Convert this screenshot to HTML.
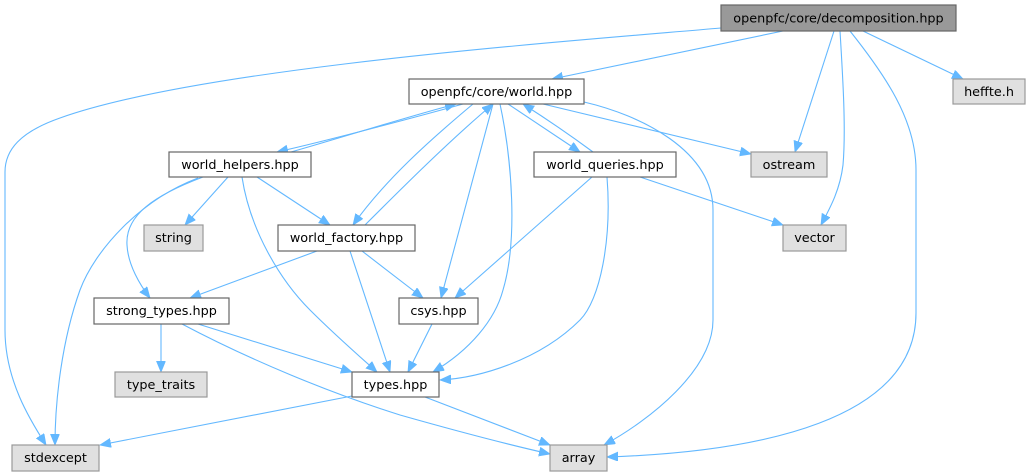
<!DOCTYPE html>
<html>
<head>
<meta charset="utf-8">
<style>
  html,body{margin:0;padding:0;background:#ffffff;}
  svg{display:block;}
  text{font-family:"DejaVu Sans","Liberation Sans",sans-serif;font-size:12.8px;fill:#000;text-anchor:middle;}
  .e{fill:none;stroke:#63b8ff;stroke-width:1.1;}
  .n{fill:#ffffff;stroke:#666666;stroke-width:1.2;}
  .x{fill:#e0e0e0;stroke:#999999;stroke-width:1.2;}
  .r{fill:#999999;stroke:#666666;stroke-width:1.2;}
</style>
</head>
<body>
<svg width="1031" height="476" viewBox="0 0 1031 476" xmlns="http://www.w3.org/2000/svg">
  <defs>
    <marker id="a" markerWidth="13" markerHeight="11" refX="11" refY="4.5" orient="auto" markerUnits="userSpaceOnUse">
      <path d="M0,0 L11,4.5 L0,9 z" fill="#63b8ff" stroke="#63b8ff" stroke-width="0.8"/>
    </marker>
  </defs>

  <!-- edges -->
  <g marker-end="url(#a)">
    <path class="e" d="M721,28 C560,42 200,68 60,118 C20,132 5,150 5,172 L5,330 C5,380 30,420 46,445"/>
    <path class="e" d="M783,31 L552,79"/>
    <path class="e" d="M834,31 L795,152"/>
    <path class="e" d="M840,31 C843,80 846,130 843,165 C840,190 830,208 821,225"/>
    <path class="e" d="M863,31 L963,79"/>
    <path class="e" d="M850,31 C885,75 916,120 916,170 L916,313 C916,420 760,452 607,457"/>

    <path class="e" d="M463,104 C420,116 330,140 277,152"/>
    <path class="e" d="M291,152 C340,138 410,116 456,104"/>
    <path class="e" d="M473,104 C430,140 385,180 353,225"/>
    <path class="e" d="M365,225 C400,190 450,140 493,104"/>
    <path class="e" d="M493,104 L441,298"/>
    <path class="e" d="M500,104 C512,160 518,240 503,290 C495,320 470,350 433,372"/>
    <path class="e" d="M508,104 L580,152"/>
    <path class="e" d="M593,152 C570,135 545,118 523,104"/>
    <path class="e" d="M543,104 L751,154"/>
    <path class="e" d="M584,102 C640,115 713,150 713,210 L713,320 C713,370 650,420 604,445"/>

    <path class="e" d="M228,177 L185,225"/>
    <path class="e" d="M257,177 L330,225"/>
    <path class="e" d="M242,177 C250,230 280,280 310,310 C335,335 358,355 377,372"/>
    <path class="e" d="M203,177 C155,195 125,215 127,245 C128,265 140,285 150,298"/>
    <path class="e" d="M198,178 C140,200 95,250 80,290 C62,340 55,400 55,445"/>

    <path class="e" d="M317,251 L190,298"/>
    <path class="e" d="M362,251 L423,298"/>
    <path class="e" d="M350,251 L390,372"/>

    <path class="e" d="M592,177 L455,298"/>
    <path class="e" d="M640,177 L783,225"/>
    <path class="e" d="M607,177 C612,240 600,300 580,320 C540,360 480,378 440,380"/>

    <path class="e" d="M432,324 L408,372"/>
    <path class="e" d="M161,324 L161,372"/>
    <path class="e" d="M198,324 L352,372"/>
    <path class="e" d="M182,324 C250,360 330,393 400,415 C460,432 510,445 550,454"/>

    <path class="e" d="M352,396 L100,445"/>
    <path class="e" d="M425,397 L550,445"/>
  </g>

  <!-- nodes -->
  <rect class="r" x="721" y="5" width="235" height="26"/>
  <text x="838.5" y="22.5">openpfc/core/decomposition.hpp</text>

  <rect class="n" x="409" y="79" width="175" height="25"/>
  <text x="496.5" y="96">openpfc/core/world.hpp</text>

  <rect class="x" x="953" y="79" width="72" height="25"/>
  <text x="989" y="96">heffte.h</text>

  <rect class="n" x="169" y="152" width="142" height="25"/>
  <text x="240" y="169">world_helpers.hpp</text>

  <rect class="n" x="534" y="152" width="142" height="25"/>
  <text x="605" y="169">world_queries.hpp</text>

  <rect class="x" x="751" y="152" width="76" height="25"/>
  <text x="789" y="169">ostream</text>

  <rect class="x" x="144" y="225" width="59" height="26"/>
  <text x="173.5" y="242">string</text>

  <rect class="n" x="278" y="225" width="137" height="26"/>
  <text x="346.5" y="242">world_factory.hpp</text>

  <rect class="x" x="783" y="225" width="63" height="26"/>
  <text x="814.5" y="242">vector</text>

  <rect class="n" x="94" y="298" width="135" height="26"/>
  <text x="161.5" y="315">strong_types.hpp</text>

  <rect class="n" x="399" y="298" width="79" height="26"/>
  <text x="438.5" y="315">csys.hpp</text>

  <rect class="x" x="115" y="372" width="92" height="25"/>
  <text x="161" y="389">type_traits</text>

  <rect class="n" x="352" y="372" width="87" height="25"/>
  <text x="395.5" y="389">types.hpp</text>

  <rect class="x" x="12" y="445" width="87" height="26"/>
  <text x="55.5" y="462">stdexcept</text>

  <rect class="x" x="550" y="445" width="57" height="26"/>
  <text x="578.5" y="462">array</text>
</svg>
</body>
</html>
